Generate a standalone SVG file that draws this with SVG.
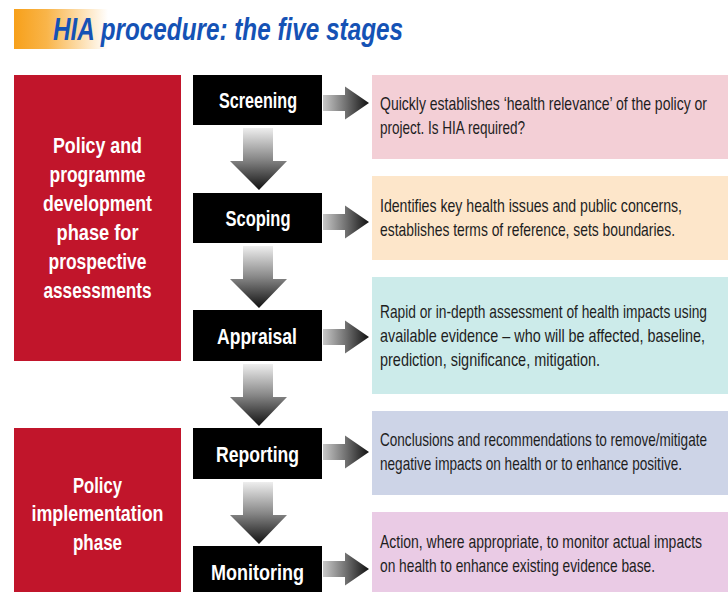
<svg xmlns="http://www.w3.org/2000/svg" width="728" height="592" viewBox="0 0 728 592">
<defs>
<linearGradient id="gTitle" x1="0" y1="0" x2="1" y2="0"><stop offset="0" stop-color="#F7A01A"/><stop offset="0.35" stop-color="#F9B54A"/><stop offset="1" stop-color="#FFFFFF"/></linearGradient>
<linearGradient id="gDown" x1="0" y1="0" x2="0" y2="1"><stop offset="0" stop-color="#EEEEEE"/><stop offset="0.5" stop-color="#888888"/><stop offset="1" stop-color="#111111"/></linearGradient>
<linearGradient id="gRight" x1="0" y1="0" x2="1" y2="0"><stop offset="0" stop-color="#C8C8C8"/><stop offset="0.5" stop-color="#707070"/><stop offset="1" stop-color="#111111"/></linearGradient>
<path id="down" d="M13,0 H43 V33 H57 L29,62 L0,33 H13 Z"/>
<path id="right" d="M0,-8 H22 V-16.5 L46,0 L22,16.5 V8 H0 Z"/>
</defs>
<style>
.red{fill:#C1152B}
.stage{fill:#000}
.phase{font-family:"Liberation Sans",Arial,sans-serif;font-weight:bold;font-size:22px;fill:#fff;text-anchor:middle}
.stxt{font-family:"Liberation Sans",Arial,sans-serif;font-weight:bold;font-size:22px;fill:#fff;text-anchor:middle}
.body{font-family:"Liberation Sans",Arial,sans-serif;font-size:18.5px;fill:#1e1e1e}
.title{font-family:"Liberation Sans",Arial,sans-serif;font-weight:bold;font-style:italic;font-size:32px;fill:#1552B5}
</style>
<rect width="728" height="592" fill="#fff"/>

<g id="title">
<rect x="14" y="9" width="94" height="40" fill="url(#gTitle)"/>
<text class="title" transform="translate(53,40) scale(0.8,1)" textLength="437.5" lengthAdjust="spacingAndGlyphs">HIA procedure: the five stages</text>
</g>

<g id="phase-development">
<rect class="red" x="14" y="75" width="167" height="286"/>
<text class="phase" x="97.5" y="153" textLength="89" lengthAdjust="spacingAndGlyphs">Policy and</text>
<text class="phase" x="97.5" y="182" textLength="96" lengthAdjust="spacingAndGlyphs">programme</text>
<text class="phase" x="97.5" y="211" textLength="109" lengthAdjust="spacingAndGlyphs">development</text>
<text class="phase" x="97.5" y="240" textLength="82" lengthAdjust="spacingAndGlyphs">phase for</text>
<text class="phase" x="97.5" y="269" textLength="98" lengthAdjust="spacingAndGlyphs">prospective</text>
<text class="phase" x="97.5" y="298" textLength="108" lengthAdjust="spacingAndGlyphs">assessments</text>
</g>

<g id="phase-implementation">
<rect class="red" x="14" y="428" width="167" height="170"/>
<text class="phase" x="97.5" y="493" textLength="49" lengthAdjust="spacingAndGlyphs">Policy</text>
<text class="phase" x="97.5" y="521" textLength="132" lengthAdjust="spacingAndGlyphs">implementation</text>
<text class="phase" x="97.5" y="550" textLength="49" lengthAdjust="spacingAndGlyphs">phase</text>
</g>

<g id="screening">
<rect class="stage" x="193" y="75" width="129" height="50"/>
<text class="stxt" x="258" y="108" textLength="78" lengthAdjust="spacingAndGlyphs">Screening</text>
</g>
<g id="scoping">
<rect class="stage" x="193" y="193" width="129" height="50"/>
<text class="stxt" x="258" y="226" textLength="65" lengthAdjust="spacingAndGlyphs">Scoping</text>
</g>
<g id="appraisal">
<rect class="stage" x="193" y="310" width="129" height="51"/>
<text class="stxt" x="257" y="344" textLength="80" lengthAdjust="spacingAndGlyphs">Appraisal</text>
</g>
<g id="reporting">
<rect class="stage" x="193" y="428" width="129" height="51"/>
<text class="stxt" x="257.5" y="462" textLength="83" lengthAdjust="spacingAndGlyphs">Reporting</text>
</g>
<g id="monitoring">
<rect class="stage" x="193" y="546" width="129" height="50"/>
<text class="stxt" x="257.5" y="580" textLength="93" lengthAdjust="spacingAndGlyphs">Monitoring</text>
</g>

<g id="desc-screening">
<rect x="372" y="75" width="356" height="84" fill="#F3CFD6"/>
<text class="body" transform="translate(380,110) scale(0.78,1)" textLength="419.2" lengthAdjust="spacingAndGlyphs">Quickly establishes ‘health relevance’ of the policy or</text>
<text class="body" transform="translate(380,134) scale(0.78,1)" textLength="185.9" lengthAdjust="spacingAndGlyphs">project. Is HIA required?</text>
</g>
<g id="desc-scoping">
<rect x="372" y="176" width="356" height="84" fill="#FDE6CA"/>
<text class="body" transform="translate(380,212) scale(0.78,1)" textLength="387.2" lengthAdjust="spacingAndGlyphs">Identifies key health issues and public concerns,</text>
<text class="body" transform="translate(380,236) scale(0.78,1)" textLength="378.2" lengthAdjust="spacingAndGlyphs">establishes terms of reference, sets boundaries.</text>
</g>
<g id="desc-appraisal">
<rect x="372" y="277" width="356" height="117" fill="#CCEBEA"/>
<text class="body" transform="translate(380,318) scale(0.78,1)" textLength="419.2" lengthAdjust="spacingAndGlyphs">Rapid or in-depth assessment of health impacts using</text>
<text class="body" transform="translate(380,342) scale(0.78,1)" textLength="416.7" lengthAdjust="spacingAndGlyphs">available evidence – who will be affected, baseline,</text>
<text class="body" transform="translate(380,366) scale(0.78,1)" textLength="282.1" lengthAdjust="spacingAndGlyphs">prediction, significance, mitigation.</text>
</g>
<g id="desc-reporting">
<rect x="372" y="411" width="356" height="84" fill="#CDD4E7"/>
<text class="body" transform="translate(380,446) scale(0.78,1)" textLength="419.2" lengthAdjust="spacingAndGlyphs">Conclusions and recommendations to remove/mitigate</text>
<text class="body" transform="translate(380,470) scale(0.78,1)" textLength="387.2" lengthAdjust="spacingAndGlyphs">negative impacts on health or to enhance positive.</text>
</g>
<g id="desc-monitoring">
<rect x="372" y="512" width="356" height="84" fill="#EACBE5"/>
<text class="body" transform="translate(380,548) scale(0.78,1)" textLength="412.8" lengthAdjust="spacingAndGlyphs">Action, where appropriate, to monitor actual impacts</text>
<text class="body" transform="translate(380,572) scale(0.78,1)" textLength="352.6" lengthAdjust="spacingAndGlyphs">on health to enhance existing evidence base.</text>
</g>

<g id="connectors">
<use href="#down" x="230" y="128" fill="url(#gDown)"/>
<use href="#down" x="230" y="246" fill="url(#gDown)"/>
<use href="#down" x="230" y="364" fill="url(#gDown)"/>
<use href="#down" x="230" y="482" fill="url(#gDown)"/>
<use href="#right" x="323" y="103" fill="url(#gRight)"/>
<use href="#right" x="323" y="222" fill="url(#gRight)"/>
<use href="#right" x="323" y="337" fill="url(#gRight)"/>
<use href="#right" x="323" y="452" fill="url(#gRight)"/>
<use href="#right" x="323" y="569" fill="url(#gRight)"/>
</g>
</svg>
